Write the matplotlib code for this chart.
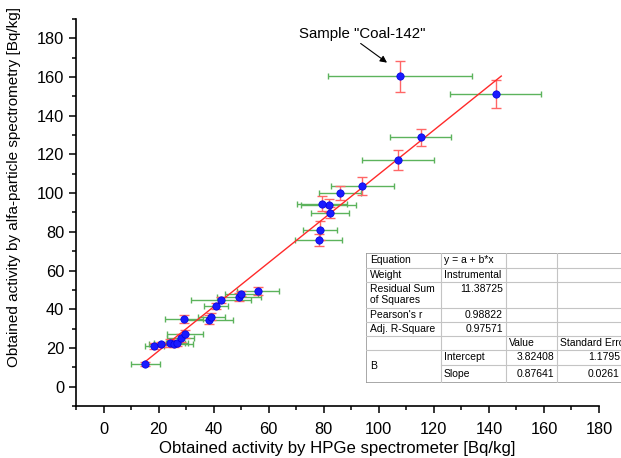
import matplotlib.pyplot as plt
from matplotlib.patches import Rectangle
from matplotlib.ticker import MultipleLocator

plt.rcParams['font.family'] = ['Liberation Sans', 'DejaVu Sans']

# activity from HPGe (x) and alfa-particle spectrometry (y), Bq/kg
hpge = [15.2, 18.5, 21.0, 24.0, 25.5, 26.7, 28.0, 29.5, 29.3, 38.2, 39.2, 40.9,
        42.7, 49.3, 50.0, 56.1, 78.2, 78.5, 82.4, 81.8, 79.4, 85.8, 94.0, 106.9,
        115.2, 142.5, 107.7]
hpge_err = [5.3, 3.5, 4.5, 5.5, 7.0, 4.0, 4.8, 6.6, 6.9, 8.8, 5.0, 4.4,
            10.8, 8.0, 6.0, 7.5, 8.5, 6.2, 6.9, 10.0, 9.1, 7.6, 11.4, 13.0,
            11.0, 16.5, 26.0]
alfa = [11.6, 20.9, 21.8, 22.7, 21.8, 22.7, 25.3, 27.4, 35.1, 34.7, 36.2, 41.7,
        44.7, 46.4, 48.1, 49.3, 75.6, 80.8, 89.9, 93.8, 94.6, 99.9, 103.8, 117.2,
        128.9, 151.2, 160.5]
alfa_err = [1.0, 1.5, 1.5, 2.0, 1.5, 1.5, 2.0, 2.0, 2.0, 2.5, 2.0, 1.5,
            1.5, 2.0, 1.5, 2.0, 3.1, 4.8, 2.9, 3.4, 3.8, 3.6, 4.5, 5.0,
            4.4, 7.2, 8.0]

# linear fit results (HPGe = a + b * alfa)
intercept = 3.82408
slope = 0.87641
fit_x = [14.5, 144.5]
fit_y = [(v - intercept) / slope for v in fit_x]

stat_names = ["Equation", "Weight", "Residual Sum\nof Squares", "Pearson's r", "Adj. R-Square"]
stat_values = ["y = a + b*x", "Instrumental", "11.38725", "0.98822", "0.97571"]
param_names = ["Intercept", "Slope"]
param_values = ["3.82408", "0.87641"]
param_errors = ["1.1795", "0.0261"]

W, H = 621, 458
fig = plt.figure(figsize=(W / 100, H / 100), dpi=100)
ax = fig.add_axes([76 / W, 1 - 406 / H, (599 - 76) / W, (406 - 19) / H])

ax.errorbar(hpge, alfa, xerr=hpge_err, fmt='none', ecolor='#5cb35c', elinewidth=1,
            capsize=2.3, capthick=1, zorder=2)
ax.errorbar(hpge, alfa, yerr=alfa_err, fmt='none', ecolor='#ff6666', elinewidth=1,
            capsize=3.5, capthick=1, zorder=3)
ax.plot(fit_x, fit_y, color='#ff2a2a', lw=1, zorder=4)
ax.plot(hpge, alfa, 'o', color='#1a1aff', ms=5.3, mec='#0000dd', mew=0.5, zorder=5)

ax.text(94.1, 182.3, 'Sample "Coal-142"', fontsize=10.8, ha='center', va='center')
ax.annotate('', xy=(hpge[-1] - 3.9, alfa[-1] + 6.1), xytext=(92.6, 178.2),
            arrowprops=dict(arrowstyle='-|>', color='black', lw=0.8, mutation_scale=10))

ax.set_xlim(-10, 180)
ax.set_ylim(-10, 190)
ax.xaxis.set_minor_locator(MultipleLocator(10))
ax.yaxis.set_minor_locator(MultipleLocator(10))
ax.set_xticks(range(0, 181, 20))
ax.set_yticks(range(0, 181, 20))
ax.spines['top'].set_visible(False)
ax.spines['right'].set_visible(False)
ax.spines['left'].set_linewidth(1.2)
ax.spines['bottom'].set_linewidth(1.2)
ax.tick_params(which='major', direction='out', length=5, width=1.1, labelsize=11.8)
ax.tick_params(which='minor', direction='out', length=3, width=1.1)
ax.tick_params(axis='x', which='major', pad=6.5)
ax.set_xlabel("Obtained activity by HPGe spectrometer [Bq/kg]", fontsize=12.1, labelpad=3)
ax.set_ylabel("Obtained activity by alfa-particle spectrometry [Bq/kg]", fontsize=11)
ax.yaxis.set_label_coords(-0.106, 0.566)

# results table
cols = [366, 441, 506, 557, 640]
rows = [253, 267.5, 282, 307.5, 321.5, 335.5, 349.5, 365, 383]
tax = fig.add_axes([cols[0] / W, 1 - rows[-1] / H, (cols[-1] - cols[0]) / W, (rows[-1] - rows[0]) / H])
tax.set_xlim(cols[0], cols[-1])
tax.set_ylim(rows[-1], rows[0])
tax.axis('off')
tax.add_patch(Rectangle((cols[0], rows[0]), cols[-1] - cols[0], rows[-1] - rows[0],
                        facecolor='white', edgecolor='#9a9a9a', lw=1.2, zorder=1))
for c in cols[1:-1]:
    tax.plot([c, c], [rows[0], rows[-1]], color='#c4c4c4', lw=0.8, zorder=2)
for i, r in enumerate(rows[1:-1], start=1):
    x0 = cols[1] if i == 7 else cols[0]
    tax.plot([x0, cols[-1]], [r, r], color='#c4c4c4', lw=0.8, zorder=2)

fs = 7.5
for i, (name, val) in enumerate(zip(stat_names, stat_values)):
    yc = (rows[i] + rows[i + 1]) / 2
    tax.text(cols[0] + 4, yc, name, fontsize=fs, va='center', ha='left', linespacing=1.15)
    if i < 2:
        tax.text(cols[1] + 3, yc, val, fontsize=fs, va='center', ha='left')
    elif i == 2:
        tax.text(cols[2] - 3, rows[i] + 7, val, fontsize=fs, va='center', ha='right')
    else:
        tax.text(cols[2] - 3, yc, val, fontsize=fs, va='center', ha='right')
yh = (rows[5] + rows[6]) / 2
tax.text(cols[2] + 3, yh, "Value", fontsize=fs, va='center', ha='left')
# cut at the right edge, as in the source image
tax.text(cols[3] + 3, yh, "Standard Error", fontsize=fs, va='center', ha='left')
tax.text(cols[0] + 4, (rows[6] + rows[8]) / 2, "B", fontsize=fs, va='center', ha='left')
for j, (pn, pv, pe) in enumerate(zip(param_names, param_values, param_errors)):
    yc = (rows[6 + j] + rows[7 + j]) / 2
    tax.text(cols[1] + 3, yc, pn, fontsize=fs, va='center', ha='left')
    tax.text(cols[3] - 3, yc, pv, fontsize=fs, va='center', ha='right')
    tax.text(620, yc, pe, fontsize=fs, va='center', ha='right')

fig.savefig('out.png', dpi=100)
